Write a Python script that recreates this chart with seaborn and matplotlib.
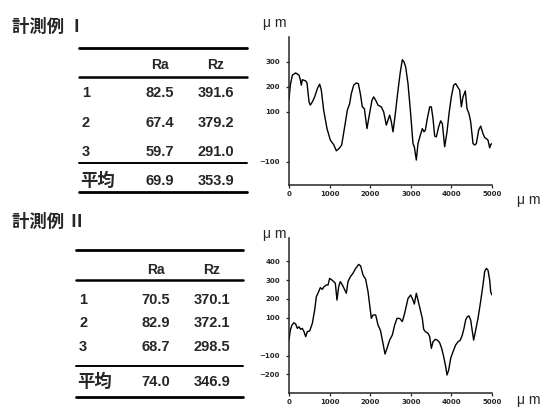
import matplotlib
matplotlib.use("Agg")
import matplotlib.pyplot as plt
from matplotlib.lines import Line2D
import seaborn as sns

# 表のデータ
row_names = ["1", "2", "3", "平均"]
ra_1 = [82.5, 67.4, 59.7, 69.9]
rz_1 = [391.6, 379.2, 291.0, 353.9]
ra_2 = [70.5, 82.9, 68.7, 74.0]
rz_2 = [370.1, 372.1, 298.5, 346.9]

# 計測例 I の断面曲線 (μm)
x_1 = [0, 33, 82, 164, 246, 279, 304, 328, 411, 443, 493, 525, 575, 632, 698, 755, 796,
       854, 936, 1018, 1100, 1166, 1232, 1297, 1371, 1437, 1494, 1535, 1593, 1658, 1708,
       1757, 1806, 1856, 1921, 1970, 2044, 2085, 2135, 2192, 2274, 2332, 2397, 2438, 2479,
       2521, 2562, 2619, 2685, 2742, 2791, 2833, 2874, 2931, 2989, 3054, 3087, 3136, 3177,
       3235, 3284, 3325, 3358, 3407, 3465, 3506, 3547, 3588, 3629, 3686, 3736, 3777, 3834,
       3892, 3941, 3998, 4056, 4105, 4154, 4204, 4245, 4286, 4343, 4384, 4433, 4475, 4532,
       4573, 4614, 4672, 4721, 4778, 4819, 4860, 4901, 4943, 4967, 5000]
y_1 = [150, 207, 247, 256, 247, 229, 207, 229, 224, 216, 140, 127, 140, 160, 193, 211, 187,
       107, 33, -13, -31, -56, -47, -33, 40, 107, 133, 173, 207, 216, 213,
       173, 120, 113, 33, 80, 147, 160, 147, 127, 120, 100, 47, 67, 87,
       60, 20, 93, 187, 260, 309, 300, 280, 213, 107, -27, -40, -93, -27,
       7, 33, 20, 27, 73, 120, 120, 73, 3, 0, 40, 64, 53, -40,
       20, 93, 160, 207, 213, 200, 187, 120, 160, 184, 113, 93, 60, -27,
       -33, -27, 27, 43, 13, -3, -7, -13, -44, -31, -27]

# 計測例 II の断面曲線 (μm)
x_2 = [0, 33, 74, 123, 164, 205, 246, 287, 328, 369, 411, 452, 509, 575, 632, 673, 731,
       772, 821, 862, 920, 961, 1002, 1059, 1100, 1141, 1182, 1223, 1264, 1314, 1355, 1412,
       1453, 1511, 1576, 1642, 1716, 1765, 1823, 1888, 1946, 1987, 2028, 2069, 2135, 2192,
       2250, 2315, 2365, 2414, 2479, 2545, 2603, 2660, 2726, 2791, 2849, 2931, 2997, 3054,
       3087, 3136, 3177, 3235, 3284, 3317, 3358, 3424, 3465, 3506, 3547, 3604, 3654, 3711,
       3760, 3810, 3859, 3892, 3933, 3982, 4039, 4105, 4163, 4220, 4269, 4310, 4351, 4392,
       4433, 4475, 4516, 4548, 4598, 4655, 4713, 4778, 4819, 4860, 4901, 4943, 4967, 5000]
y_2 = [-18, 35, 62, 74, 67, 44, 53, 39, 44, 27, 0, 27, 30, 71, 141, 212, 239,
       260, 251, 265, 274, 274, 309, 300, 292, 283, 194, 265, 292, 274, 256, 230,
       292, 318, 336, 362, 383, 375, 327, 304, 239, 168, 97, 115, 115, 62,
       35, -35, -92, -62, -18, 9, 62, 97, 97, 80, 124, 203, 221, 194,
       173, 230, 194, 141, 97, 39, 27, 18, 0, -62, -27, -14, -18, -32,
       -62, -106, -159, -203, -177, -115, -80, -44, -27, -18, 9, 44, 88, 106,
       110, 88, 27, -18, 35, 97, 177, 274, 345, 362, 353, 300, 239, 221]

x_ticks = [0, 1000, 2000, 3000, 4000, 5000]
y_ticks_1 = [300, 200, 100, -100]
y_ticks_2 = [400, 300, 200, 100, -100, -200]

sns.set_style("ticks")
plt.rcParams["font.family"] = ["Liberation Sans", "Noto Sans CJK JP", "DejaVu Sans"]
jp = ["Noto Sans CJK JP", "DejaVu Sans"]

W, H = 549, 408
fig = plt.figure(figsize=(W / 100, H / 100), dpi=100)


def rect(l, t, r, b):
    return [l / W, 1 - b / H, (r - l) / W, (b - t) / H]


def hline(x0, x1, y, lw):
    fig.add_artist(Line2D([x0 / W, x1 / W], [1 - y / H, 1 - y / H],
                          transform=fig.transFigure, color="black", lw=lw))


def txt(x, y, s, ha="left", **kw):
    fig.text(x / W, 1 - y / H, s, ha=ha, va="center", **kw)


def draw_table(title_y, left, right, lines_y, head_y, rows_y, ra_x, rz_x, ra, rz, title):
    txt(12, title_y, title, family=jp, fontsize=12.5, weight="bold")
    hline(left, right, lines_y[0], 2.0)
    hline(left, right, lines_y[1], 1.8)
    hline(left, right, lines_y[2], 1.4)
    hline(left, right, lines_y[3], 2.0)
    txt(ra_x, head_y, "Ra", ha="center", fontsize=10, weight="bold")
    txt(rz_x, head_y, "Rz", ha="center", fontsize=10, weight="bold")
    for name, a, z, y in zip(row_names, ra, rz, rows_y):
        if name == "平均":
            txt(left + 1, y, name, family=jp, fontsize=12.5, weight="bold")
        else:
            txt(left + 3, y, name, fontsize=10.5, weight="bold")
        txt(ra_x, y, f"{a:.1f}", ha="center", fontsize=10.5, weight="bold")
        txt(rz_x, y, f"{z:.1f}", ha="center", fontsize=10.5, weight="bold")


draw_table(27, 79, 247, [48, 77, 163, 192], 65, [93, 123, 152, 181], 160, 216,
           ra_1, rz_1, "計測例 Ⅰ")
draw_table(222, 76, 243, [250, 280, 366, 397], 270, [300, 323, 347, 382], 156, 212,
           ra_2, rz_2, "計測例 Ⅱ")


def draw_profile(box, xs, ys, ylim, yticks, ylab_y, xlab_y):
    ax = fig.add_axes(rect(*box))
    sns.lineplot(x=xs, y=ys, ax=ax, color="black", lw=1.0, sort=False)
    ax.set_xlim(0, 5000)
    ax.set_ylim(*ylim)
    ax.set_xticks(x_ticks)
    ax.set_yticks(yticks)
    sns.despine(ax=ax)
    ax.spines["left"].set_linewidth(1.1)
    ax.spines["bottom"].set_linewidth(1.1)
    ax.tick_params(axis="y", length=2.5, width=0.9, pad=4, labelsize=5)
    ax.tick_params(axis="x", length=2, width=0.9, pad=2, labelsize=5)
    for lab in ax.get_xticklabels() + ax.get_yticklabels():
        lab.set_fontweight("bold")
        lab.set_family("DejaVu Sans")
    txt(263, ylab_y, "μ m", fontsize=10)
    txt(517, xlab_y, "μ m", fontsize=10)
    return ax


draw_profile((289, 37, 492, 185.5), x_1, y_1, (-195, 400), y_ticks_1, 23, 200)
draw_profile((289, 238, 492, 393.3), x_2, y_2, (-300, 523), y_ticks_2, 234, 400)

fig.savefig("out.png", dpi=100)
